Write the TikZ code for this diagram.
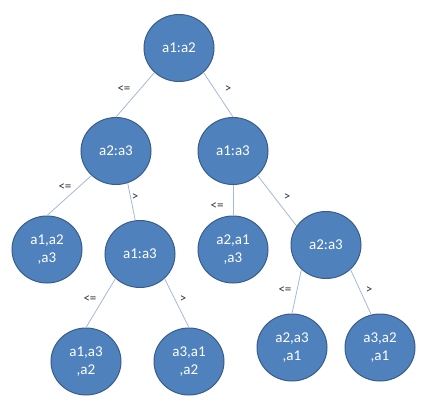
\documentclass[tikz,border=0pt]{standalone}
\usepackage{fontspec}
\setmainfont{Carlito}
\usetikzlibrary{shapes.geometric}

\definecolor{nodefill}{HTML}{4F81BD}
\definecolor{nodeline}{HTML}{385D8A}
\definecolor{edgeline}{HTML}{A5B8D6}

\tikzset{
    cmp/.style={ellipse, draw=nodeline, fill=nodefill, line width=1pt,
        minimum width=70pt, minimum height=67pt, inner sep=0pt,
        text=white, font=\fontsize{15}{17.5}\selectfont, align=center},
    rel/.style={font=\fontsize{13}{15}\selectfont, text=black!80, inner sep=0pt}
}

\begin{document}
\begin{tikzpicture}[x=1pt, y=-1pt]
        \useasboundingbox (0,0) rectangle (432,408);

        % 1. Place the comparisons (Nodes)
        % Top row
        \node[cmp] (root) at (179, 48)   {a1:a2};

        % Second row
        \node[cmp] (L) at (116, 151)     {a2:a3};
        \node[cmp] (R) at (233, 151)     {a1:a3};

        % Third row
        \node[cmp] (LL) at (47, 249.5)   {a1,a2\\,a3};
        \node[cmp] (LR) at (140, 254)    {a1:a3};
        \node[cmp] (RL) at (233, 249.5)  {a2,a1\\,a3};
        \node[cmp] (RR) at (326, 245)    {a2:a3};

        % Bottom row
        \node[cmp] (LRL) at (86, 361.5)  {a1,a3\\,a2};
        \node[cmp] (LRR) at (189, 361.5) {a3,a1\\,a2};
        \node[cmp] (RRL) at (292, 347.5) {a2,a3\\,a1};
        \node[cmp] (RRR) at (380, 347.5) {a3,a2\\,a1};

        % 2. Draw the branches (Lines)
        \begin{scope}[edgeline, line width=0.8pt]
            \draw (root.225) -- (L.north);
            \draw (root.315) -- (R.north);

            \draw (L.225) -- (LL.north);
            \draw (L.290) -- (LR.98);

            \draw (R.south) -- (RL.north);
            \draw (R.315) -- (RR.147);

            \draw (LR.225) -- (LRL.north);
            \draw (LR.315) -- (LRR.north);

            \draw (RR.225) -- (RRL.north);
            \draw (RR.315) -- (RRR.105);
        \end{scope}

        % 3. Branch labels
        \node[rel] (l1) at (124, 89)  {<=};
        \node[rel] (r1) at (228, 89)  {>};
        \node[rel] (l2) at (65, 187)  {<=};
        \node[rel] (r2) at (135, 197) {>};
        \node[rel] (l3) at (217, 206) {<=};
        \node[rel] (r3) at (287, 197) {>};
        \node[rel] (l4) at (90, 299)  {<=};
        \node[rel] (r4) at (183, 299) {>};
        \node[rel] (l5) at (285, 290) {<=};
        \node[rel] (r5) at (369, 290) {>};

    \end{tikzpicture}
\end{document}
